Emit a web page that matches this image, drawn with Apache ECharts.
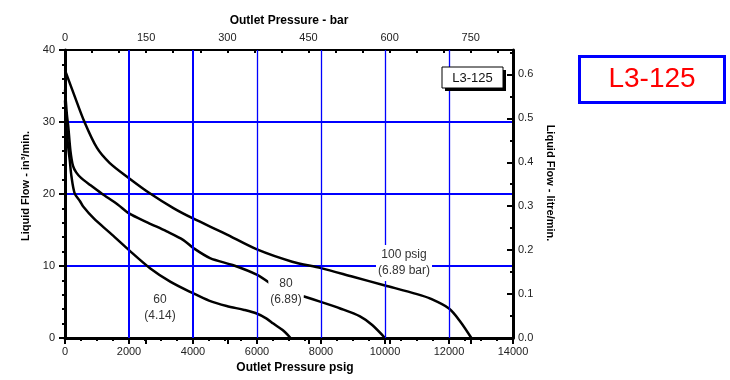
<!DOCTYPE html>
<html><head><meta charset="utf-8">
<script src="https://cdn.jsdelivr.net/npm/echarts@6/dist/echarts.min.js"></script>
<style>html,body{margin:0;padding:0;background:#fff}#c{width:730px;height:380px}</style>
</head><body><div id="c"></div>
<script>
const FONT = '"Liberation Sans", Arial, sans-serif';

// Curve data: outlet pressure (psig) vs liquid flow (in^3/min)
const curve100Psig = [0, 300, 600, 1000, 1400, 2000, 2650, 3400, 4000, 5000, 6000, 7100, 8000, 9000, 10000, 11000, 11400, 12000, 12350, 12700];
const curve100Flow = [37.2, 33.6, 30.1, 26.4, 24.3, 22.2, 20.1, 18.0, 16.6, 14.5, 12.3, 10.6, 9.7, 8.5, 7.3, 6.1, 5.5, 4.1, 2.3, 0];

const curve80Psig = [0, 60, 100, 170, 250, 350, 510, 800, 1135, 1656, 2000, 2600, 3177, 3700, 4010, 4531, 5260, 5990, 6406, null, 7448, 7970, 8600, 9219, 9600, 10000];
const curve80Flow = [34.5, 31, 29.5, 26, 23.9, 23, 22.2, 21.2, 20.1, 18.5, 17.3, 16.0, 14.8, 13.6, 12.5, 11.1, 10.1, 8.8, 7.6, null, 5.8, 5.05, 4.1, 3.0, 1.8, 0];

const curve60Psig = [0, 50, 100, 146, 200, 302, 469, 562, 900, 1406, 2000, 2656, 3300, 4010, 4500, 5052, 5600, 5990, 6300, 6510, 6800, 7050];
const curve60Flow = [33, 29, 26.5, 24.8, 22.5, 20.1, 19.0, 18.3, 16.6, 14.6, 12.2, 9.7, 7.8, 6.2, 5.2, 4.45, 3.9, 3.4, 2.7, 2.0, 1.1, 0];

// Axes
const psigMin = 0, psigMax = 14000, psigStep = 2000;
const flowMin = 0, flowMax = 40, flowStep = 10;
const barMax = 828, barStep = 150, barMinorStep = 50;
const litreMax = 40 * 0.016387, litreStep = 0.1;
const gridPsig = [2000, 4000, 6000, 8000, 10000, 12000];
const thickGridPsig = [2000, 4000];

// Annotations (in data units)
const annotLabels = ['100 psig\n(6.89 bar)', '80\n(6.89)', '60\n(4.14)'];
const annotPsig = [10594, 6906, 2969];
const annotFlow = [10.4, 6.47, 4.17];

function pairs(xs, ys) { return xs.map((x, i) => x === null ? [null, null] : [x, ys[i]]); }

const chart = echarts.init(document.getElementById('c'), null, {renderer: 'canvas'});
const blue = '#0000ff';
const txt = {fontFamily: FONT, fontSize: 11, color: '#222'};
const nameStyle = {fontFamily: FONT, fontSize: 12, fontWeight: 'bold', color: '#000'};

const curveStyle = {color: '#000', width: 2.5};
function curveSeries(name, data) {
  return {name, type: 'line', data, xAxisIndex: 0, yAxisIndex: 0, symbol: 'none', smooth: 0.3,
    connectNulls: false, lineStyle: curveStyle, z: 3, silent: true};
}

chart.setOption({
  animation: false,
  backgroundColor: '#fff',
  grid: {left: 65, top: 50, width: 448, height: 288, containLabel: false},
  xAxis: [
    {type: 'value', position: 'bottom', min: psigMin, max: psigMax, interval: psigStep,
      axisLine: {show: true, onZero: false, lineStyle: {color: '#000', width: 3}},
      axisTick: {show: true, length: 6, lineStyle: {color: '#000', width: 2}},
      minorTick: {show: true, splitNumber: 4, length: 3, lineStyle: {color: '#000', width: 2}},
      axisLabel: Object.assign({margin: 8, formatter: v => String(v)}, txt),
      splitLine: {show: false},
      name: 'Outlet Pressure psig', nameLocation: 'middle', nameGap: 23,
      nameTextStyle: Object.assign({padding: [0, 0, 0, 12]}, nameStyle)},
    {type: 'value', position: 'top', min: 0, max: barMax, interval: barMinorStep,
      axisLine: {show: true, onZero: false, lineStyle: {color: '#000', width: 2}},
      axisTick: {show: true, inside: true, length: 3, lineStyle: {color: '#000', width: 2}},
      axisLabel: {show: false}, splitLine: {show: false}},
    {type: 'value', position: 'top', min: 0, max: barMax, interval: barStep,
      axisLine: {show: false},
      axisTick: {show: true, inside: true, length: 6, lineStyle: {color: '#000', width: 2}},
      axisLabel: Object.assign({margin: 7, showMaxLabel: false, formatter: v => String(v)}, txt),
      splitLine: {show: false},
      name: 'Outlet Pressure - bar', nameLocation: 'middle', nameGap: 22, nameTextStyle: nameStyle}
  ],
  yAxis: [
    {type: 'value', position: 'left', min: flowMin, max: flowMax, interval: flowStep,
      axisLine: {show: true, onZero: false, lineStyle: {color: '#000', width: 3}},
      axisTick: {show: true, length: 6, lineStyle: {color: '#000', width: 2}},
      minorTick: {show: true, splitNumber: 5, length: 3, lineStyle: {color: '#000', width: 2}},
      axisLabel: Object.assign({margin: 10}, txt),
      splitLine: {show: true, showMinLine: false, showMaxLine: false, lineStyle: {color: blue, width: 2}},
      name: 'Liquid Flow - in³/min.', nameLocation: 'middle', nameGap: 27, nameRotate: 90,
      nameTextStyle: Object.assign({padding: [0, 0, 0, 16]}, nameStyle, {fontSize: 11})},
    {type: 'value', position: 'right', min: 0, max: litreMax, interval: litreStep,
      axisLine: {show: true, onZero: false, lineStyle: {color: '#000', width: 3}},
      axisTick: {show: true, inside: true, length: 6, lineStyle: {color: '#000', width: 2}},
      minorTick: {show: true, splitNumber: 2, length: 3, lineStyle: {color: '#000', width: 2}},
      axisLabel: Object.assign({margin: 5, showMaxLabel: false, formatter: v => v.toFixed(1)}, txt),
      splitLine: {show: false},
      name: 'Liquid Flow - litre/min.', nameLocation: 'middle', nameGap: 25, nameRotate: -90,
      nameTextStyle: Object.assign({padding: [0, 22, 0, 0]}, nameStyle, {fontSize: 11})}
  ],
  series: [
    {type: 'line', data: [], xAxisIndex: 0, yAxisIndex: 0, z: 1, silent: true,
      markLine: {silent: true, symbol: 'none', label: {show: false}, animation: false,
        lineStyle: {color: blue, width: 1.3, type: 'solid'},
        data: gridPsig.map(v => ({xAxis: v,
          lineStyle: {color: blue, type: 'solid', width: thickGridPsig.includes(v) ? 2 : 1.3}}))}},
    curveSeries('100 psig', pairs(curve100Psig, curve100Flow)),
    curveSeries('80 psig', pairs(curve80Psig, curve80Flow)),
    curveSeries('60 psig', pairs(curve60Psig, curve60Flow))
  ]
});

const graphics = annotLabels.map((t, i) => {
  const p = chart.convertToPixel({xAxisIndex: 0, yAxisIndex: 0}, [annotPsig[i], annotFlow[i]]);
  return {type: 'text', x: p[0], y: p[1], z: 100,
    style: {text: t, fill: '#333', font: '12px ' + FONT, align: 'center', verticalAlign: 'middle',
      lineHeight: 16, backgroundColor: '#fff', padding: [2, 2]}};
});
// inner title box with shadow
graphics.push({type: 'rect', z: 100, shape: {x: 445, y: 70, width: 61, height: 21}, style: {fill: '#000'}});
graphics.push({type: 'rect', z: 101, shape: {x: 442, y: 67, width: 61, height: 21}, style: {fill: '#fff', stroke: '#000', lineWidth: 1}});
graphics.push({type: 'text', z: 102, x: 472.5, y: 78, style: {text: 'L3-125', fill: '#111', font: '13px ' + FONT, align: 'center', verticalAlign: 'middle'}});
// outer title box
graphics.push({type: 'rect', z: 100, shape: {x: 579.5, y: 56.5, width: 145, height: 46}, style: {fill: '#fff', stroke: blue, lineWidth: 3}});
graphics.push({type: 'text', z: 101, x: 652, y: 79, style: {text: 'L3-125', fill: '#ff0000', font: '28px ' + FONT, align: 'center', verticalAlign: 'middle'}});
chart.setOption({graphic: graphics});
</script></body></html>
